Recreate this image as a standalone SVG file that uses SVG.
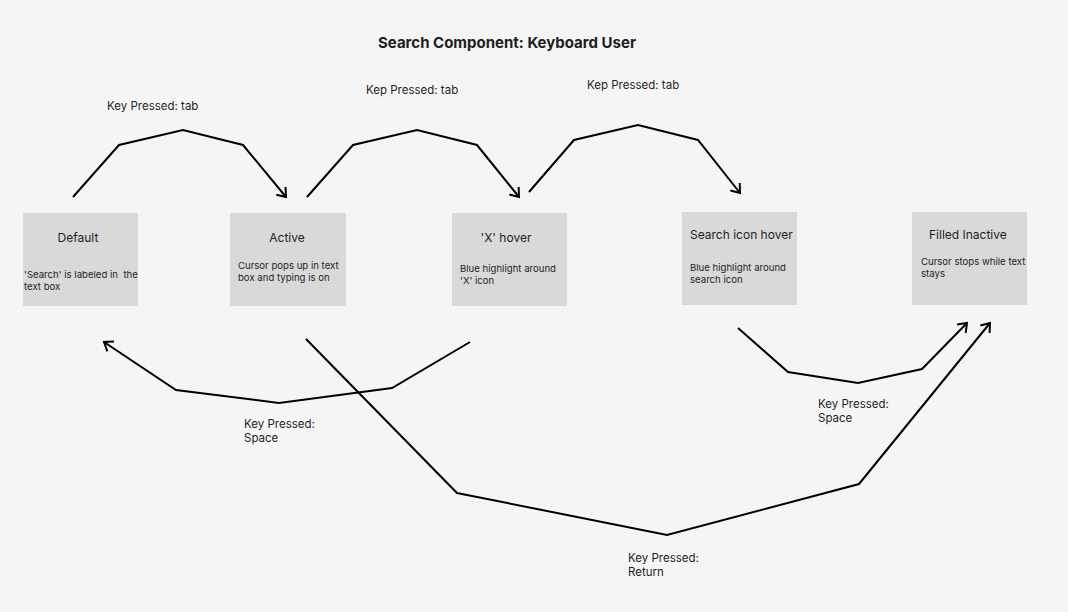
<svg xmlns="http://www.w3.org/2000/svg" width="1068" height="612" viewBox="0 0 1068 612">
<defs>
<style>
.bg{fill:#f5f5f5}
.box{fill:#d9d9d9}
text{font-family:Inter,"Noto Sans","Liberation Sans",sans-serif;fill:#1e1e1e}
.t{font-size:12px}
.d{font-size:9.6px}
.l{font-size:11.5px}
.h{font-size:15px;font-weight:bold}
.c{fill:none;stroke:#000;stroke-width:2;stroke-linejoin:miter}
</style>
<marker id="ah" markerWidth="14" markerHeight="14" refX="11" refY="7" orient="auto" markerUnits="userSpaceOnUse">
<path d="M3,1 L11,7 L3,13" fill="none" stroke="#000" stroke-width="2"/>
</marker>
</defs>
<rect class="bg" width="1068" height="612"/>
<text class="h" x="507" y="48" text-anchor="middle">Search Component: Keyboard User</text>
<g id="n-default">
<rect class="box" x="23" y="213" width="115" height="93"/>
<text class="t" x="78" y="242" text-anchor="middle">Default</text>
<text class="d" x="24" y="278" xml:space="preserve">'Search' is labeled in  the</text>
<text class="d" x="24" y="290">text box</text>
</g>
<g id="n-active">
<rect class="box" x="230" y="213" width="116" height="93"/>
<text class="t" x="287" y="242" text-anchor="middle">Active</text>
<text class="d" x="238" y="269">Cursor pops up in text</text>
<text class="d" x="238" y="281">box and typing is on</text>
</g>
<g id="n-xhover">
<rect class="box" x="452" y="213" width="115" height="93"/>
<text class="t" x="506" y="242" text-anchor="middle">'X' hover</text>
<text class="d" x="460" y="272">Blue highlight around</text>
<text class="d" x="460" y="284">'X' icon</text>
</g>
<g id="n-search">
<rect class="box" x="682" y="212" width="115" height="93"/>
<text class="t" x="690" y="239">Search icon hover</text>
<text class="d" x="690" y="271">Blue highlight around</text>
<text class="d" x="690" y="283">search icon</text>
</g>
<g id="n-filled">
<rect class="box" x="912" y="212" width="115" height="93"/>
<text class="t" x="929" y="239">Filled Inactive</text>
<text class="d" x="921" y="265">Cursor stops while text</text>
<text class="d" x="921" y="277">stays</text>
</g>
<g id="connectors">
<polyline class="c" points="73,197 119,145 183,130 243,145 286,197" marker-end="url(#ah)"/>
<polyline class="c" points="307,197 353,145 417,130 477,145 519,197" marker-end="url(#ah)"/>
<polyline class="c" points="529,192 574,140 638,125 698,140 740,193" marker-end="url(#ah)"/>
<polyline class="c" points="470,342 392,388 279,403 176,390 104,342" marker-end="url(#ah)"/>
<polyline class="c" points="306,339 457,493 667,535 859,484 990,323" marker-end="url(#ah)"/>
<polyline class="c" points="738,328 788,372 858,383 922,369 967,323" marker-end="url(#ah)"/>
</g>
<g id="labels">
<text class="l" x="107" y="110">Key Pressed: tab</text>
<text class="l" x="366" y="94">Kep Pressed: tab</text>
<text class="l" x="587" y="89">Kep Pressed: tab</text>
<text class="l" x="244" y="428">Key Pressed:</text>
<text class="l" x="244" y="442">Space</text>
<text class="l" x="818" y="408">Key Pressed:</text>
<text class="l" x="818" y="422">Space</text>
<text class="l" x="628" y="562">Key Pressed:</text>
<text class="l" x="628" y="576">Return</text>
</g>
</svg>
